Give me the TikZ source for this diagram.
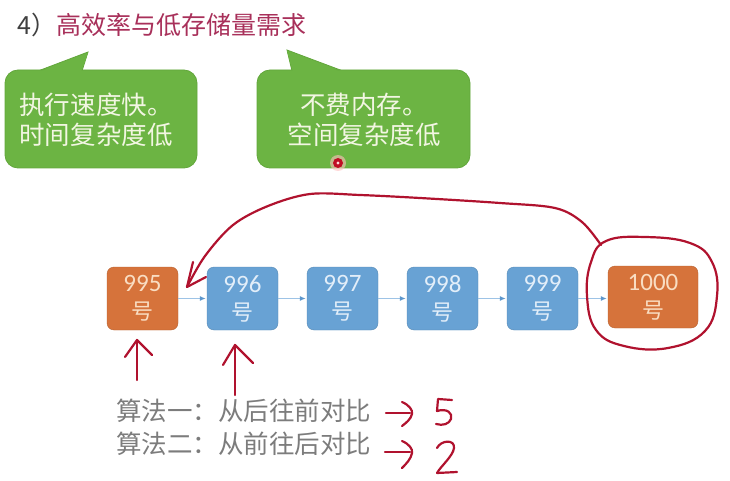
\documentclass[tikz,border=0pt]{standalone}
\usepackage{fontspec}
\setmainfont{Carlito}
\newfontfamily\cjk{Noto Sans CJK SC}
\usetikzlibrary{arrows.meta}

\definecolor{titlegray}{HTML}{404040}
\definecolor{titlepink}{HTML}{A8305A}
\definecolor{callgreen}{HTML}{6CB443}
\definecolor{callline}{HTML}{62A63B}
\definecolor{calltext}{HTML}{F2F6E2}
\definecolor{nodeorange}{HTML}{D6733B}
\definecolor{nodeblue}{HTML}{68A2D4}
\definecolor{orangetext}{HTML}{F9DDC2}
\definecolor{bluetext}{HTML}{E2EEF9}
\definecolor{linkblue}{HTML}{9DC3E6}
\definecolor{linkhead}{HTML}{5E97CC}
\definecolor{inkred}{HTML}{B0122E}
\definecolor{plaingray}{HTML}{7C7C7C}

\newcommand{\hao}{{\cjk\fontsize{22}{28}\selectfont 号}}

\tikzset{
  callout/.style={fill=callgreen, draw=callline, line width=0.8pt, rounded corners=13pt},
  calltxt/.style={text=calltext, font=\cjk\fontsize{25.5}{30}\selectfont, align=center, inner sep=0pt},
  recbox/.style={rounded corners=7pt, minimum width=71pt, minimum height=63pt, inner sep=0pt,
    align=center, font=\fontsize{25}{28}\selectfont},
  hitbox/.style={recbox, fill=nodeorange, draw=nodeorange!85!black, line width=0.4pt, text=orangetext},
  plainbox/.style={recbox, fill=nodeblue, draw=nodeblue!85!black, line width=0.4pt, text=bluetext},
  link/.style={draw=linkblue, line width=1.2pt, -{Latex[length=6pt,width=5pt,color=linkhead]}},
  ink/.style={draw=inkred, line width=2.2pt, line cap=round, line join=round},
  remark/.style={text=plaingray, font=\cjk\fontsize{25.5}{30}\selectfont, inner sep=0pt, anchor=west}
}

\begin{document}
\begin{tikzpicture}[x=1pt, y=-1pt]
\useasboundingbox (0,0) rectangle (730,481);

% heading
\node[anchor=west, inner sep=0pt, font=\cjk\fontsize{25}{30}\selectfont] (title) at (17,25)
  {\textcolor{titlegray}{4）}\textcolor{titlepink}{高效率与低存储量需求}};

% left callout
\draw[callline, fill=callgreen, line width=0.8pt] (38,71) -- (88,52) -- (82,71);
\node[callout, minimum width=192pt, minimum height=98pt] (c1) at (101,119) {};
\fill[callgreen] (39,72) -- (88,53) -- (81,72) -- cycle;
\node[calltxt] (c1t) at (96,120) {执行速度快。\\时间复杂度低};

% right callout
\draw[callline, fill=callgreen, line width=0.8pt] (292,71) -- (287,50) -- (343,71);
\node[callout, minimum width=213pt, minimum height=98pt] (c2) at (363.5,119) {};
\fill[callgreen] (293,72) -- (287,51) -- (341,72) -- cycle;
\node[calltxt] (c2t) at (364,120) {不费内存。\\空间复杂度低};

% pointer dot
\fill[red!25, opacity=0.6] (338,163) circle (8);
\fill[inkred!80!red] (338,163) circle (5);
\fill[pink!60] (338,163) circle (1.6);

% record chain
\node[hitbox]   (b995)  at (142.5,298.5) {995\\\hao};
\node[plainbox] (b996)  at (242.5,298.5) {996\\\hao};
\node[plainbox] (b997)  at (342.5,298.5) {997\\\hao};
\node[plainbox] (b998)  at (442.5,298.5) {998\\\hao};
\node[plainbox] (b999)  at (542.5,298.5) {999\\\hao};
\node[hitbox, minimum width=90pt, minimum height=62pt] (b1000) at (653,297) {1000\\\hao};

\draw[link, shorten >=1pt] (b995)  -- (b996);
\draw[link, shorten >=1pt] (b996)  -- (b997);
\draw[link, shorten >=1pt] (b997)  -- (b998);
\draw[link, shorten >=1pt] (b998)  -- (b999);
\draw[link, shorten >=1pt] (b999.east) -- (b1000.west |- b999.east);

% hand-drawn marks: ring around the last record and the jump back
\draw[ink] plot[smooth cycle, tension=0.7] coordinates
  {(606,241) (645,237) (690,243) (712,262) (717,296) (705,331) (668,348)
   (624,346) (596,330) (587,296) (591,262)};
\coordinate (jumpfrom) at (601,245);
\coordinate (jumpto) at (187,287);
\draw[ink] plot[smooth, tension=0.55] coordinates
  {(jumpfrom) (582,222) (555,208) (500,203) (420,198) (360,195) (310,194)
   (268,206) (233,225) (205,256) (jumpto)};
\draw[ink] (193,262) -- (jumpto) -- (206,277);

% hand-drawn pointers under the first two records
\coordinate (p1) at (137,340);
\coordinate (p2) at (235,345);
\draw[ink] (137,380) -- (p1);
\draw[ink] (125,357) -- (p1) -- (152,355);
\draw[ink] (235,395) -- (p2);
\draw[ink] (223,365) -- (p2) -- (253,363);

% the two search orders
\node[remark] (alg1) at (116,411) {算法一：从后往前对比};
\node[remark] (alg2) at (116,444) {算法二：从前往后对比};

% hand-written counts
\coordinate (n5) at (386,413);
\draw[ink] (n5) -- (410,413);
\draw[ink] (402,402) .. controls (409,405) and (413,410) .. (412,414)
  .. controls (411,419) and (406,423) .. (402,426);
\draw[ink] (452,400) -- (438,399) -- (437,411)
  .. controls (447,408) and (453,413) .. (451,419)
  .. controls (449,424) and (443,426) .. (436,424);
\coordinate (n2) at (385,452);
\draw[ink] (n2) -- (410,452);
\draw[ink] (402,441) .. controls (409,444) and (413,449) .. (412,453)
  .. controls (411,459) and (406,464) .. (402,468);
\draw[ink] (437,448) .. controls (441,440) and (455,439) .. (454,448)
  .. controls (453,456) and (441,466) .. (437,473) -- (457,472);
\end{tikzpicture}
\end{document}
